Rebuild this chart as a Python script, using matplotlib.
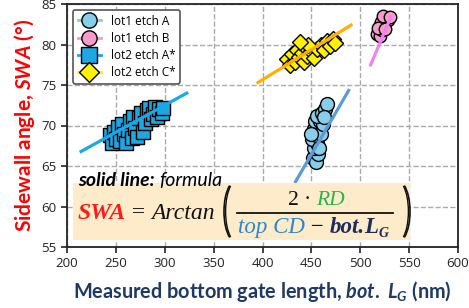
import matplotlib
matplotlib.use('Agg')
import matplotlib.pyplot as plt
from matplotlib.lines import Line2D
import matplotlib.patches as mpatches

# ---------------- data ----------------
a1_x = [452, 455, 457, 453, 456, 451, 455, 458, 453, 457, 460, 454, 459, 462, 456, 461, 464, 466, 463, 450, 458]
a1_y = [66.0, 65.5, 66.5, 67.2, 67.8, 68.3, 68.8, 69.3, 69.6, 70.0, 69.0, 70.5, 70.6, 70.2, 71.2, 71.5, 72.0, 72.6, 71.0, 69.0, 67.2]

b1_x = [517, 520, 522, 519, 524, 521, 526, 528, 523, 530, 518, 525]
b1_y = [81.3, 81.0, 81.8, 82.2, 82.5, 82.8, 83.2, 83.0, 83.5, 83.4, 82.0, 81.9]

a2_x = [244, 246, 248, 250, 252, 254, 256, 258, 260, 262, 264, 266, 268, 270, 272, 274, 276, 278, 280, 282, 284, 286, 288, 290, 292, 294, 297, 298]
a2_y = [68.8, 67.9, 69.2, 68.3, 69.8, 68.1, 70.2, 68.9, 67.8, 69.5, 70.6, 68.4, 71.0, 69.7, 68.6, 70.9, 71.6, 69.2, 70.3, 71.9, 72.2, 70.8, 71.4, 72.3, 71.0, 72.0, 71.6, 72.2]

c2_x = [425, 428, 430, 433, 435, 437, 440, 442, 444, 446, 450, 453, 456, 460, 463, 466, 469, 472, 474, 447, 438]
c2_y = [78.2, 77.5, 78.8, 77.9, 79.3, 78.4, 79.0, 77.8, 79.6, 78.6, 79.2, 78.3, 79.5, 79.9, 79.3, 80.4, 79.8, 80.7, 80.2, 80.0, 80.3]

# formula lines (end points)
fa1_x = [433, 489]; fa1_y = [62.9, 74.5]
fb1_x = [510, 532]; fb1_y = [77.3, 83.6]
fa2_x = [213, 324]; fa2_y = [66.7, 74.1]
fc2_x = [394, 492]; fc2_y = [75.2, 82.5]

labels = ['lot1 etch A', 'lot1 etch B', 'lot2 etch A*', 'lot2 etch C*']
xticks = [200, 250, 300, 350, 400, 450, 500, 550, 600]
yticks = [55, 60, 65, 70, 75, 80, 85]

# ---------------- figure ----------------
W, H = 469, 308
plt.rcParams['mathtext.fontset'] = 'custom'
plt.rcParams['mathtext.it'] = 'Lato:bold:italic'
plt.rcParams['mathtext.rm'] = 'Lato:bold'
plt.rcParams['mathtext.bf'] = 'Lato:bold'

fig = plt.figure(figsize=(W / 100, H / 100), dpi=100)
ax = fig.add_axes([67 / W, 1 - 247 / H, (458 - 67) / W, (247 - 4) / H])

c_a1, c_a1l = '#87CEEB', '#5B9BD5'
c_b1, c_b1l = '#F79BCB', '#EE82EE'
c_a2, c_a2l = '#1EA7E1', '#1BA8E8'
c_c2, c_c2l = '#FFF200', '#FFB000'

ax.plot(fa1_x, fa1_y, color=c_a1l, lw=2.3, zorder=5, solid_capstyle='butt')
ax.plot(fb1_x, fb1_y, color=c_b1l, lw=2.3, zorder=5, solid_capstyle='butt')
ax.plot(fa2_x, fa2_y, color=c_a2l, lw=2.3, zorder=5, solid_capstyle='butt')
ax.plot(fc2_x, fc2_y, color=c_c2l, lw=2.3, zorder=5, solid_capstyle='butt')

ax.plot(a1_x, a1_y, 'o', ms=10, mfc=c_a1, mec='black', mew=1, zorder=4)
ax.plot(b1_x, b1_y, 'o', ms=9, mfc=c_b1, mec='black', mew=1, zorder=4)
ax.plot(a2_x, a2_y, 's', ms=10, mfc=c_a2, mec='black', mew=1, zorder=4)
ax.plot(c2_x, c2_y, 'D', ms=8, mfc=c_c2, mec='black', mew=1, zorder=4)

ax.set_xlim(200, 600)
ax.set_ylim(55, 85)
ax.set_xticks(xticks)
ax.set_yticks(yticks)
ax.grid(True, ls='--', color='#AAAAAA', lw=1)
ax.set_axisbelow(True)
for s in ax.spines.values():
    s.set_linewidth(1.3)
    s.set_color('#222222')
ax.tick_params(labelsize=9.5, colors='#222222', length=4, width=1.2)
for t in ax.get_xticklabels() + ax.get_yticklabels():
    t.set_fontfamily('Open Sans')

handles = [
    Line2D([], [], color=c_a1, marker='o', ms=11, mfc=c_a1, mec='black', lw=2),
    Line2D([], [], color=c_b1, marker='o', ms=11, mfc=c_b1, mec='black', lw=2),
    Line2D([], [], color=c_a2, marker='s', ms=11, mfc=c_a2, mec='black', lw=2),
    Line2D([], [], color=c_c2, marker='D', ms=10, mfc=c_c2, mec='black', lw=2),
]
leg = ax.legend(handles, labels, loc='upper left', bbox_to_anchor=(0.0, 1.0),
                prop={'family': 'Open Sans', 'size': 8.5}, framealpha=1,
                edgecolor='#555555', handlelength=2.0, labelspacing=0.35,
                borderpad=0.4, handletextpad=0.8)
leg.get_frame().set_linewidth(1.2)
leg.set_zorder(10)

ax.set_ylabel(r'Sidewall angle, $SWA$ (°)', color='red', fontsize=15,
              fontfamily='Lato', fontweight='bold', labelpad=3)
ax.set_xlabel(r'Measured bottom gate length, $bot.\ L_G$ (nm)', color='#1F3864',
              fontsize=14.3, fontfamily='Lato', fontweight='bold', labelpad=6)

# formula box
def P(x, y):
    return (x / W, 1 - y / H)

box = mpatches.Rectangle(P(73, 240), (410 - 73) / W, (240 - 183) / H,
                         transform=fig.transFigure, facecolor='#FDEBC9',
                         edgecolor='none', zorder=3)
fig.add_artist(box)

fig.canvas.draw()
renderer = fig.canvas.get_renderer()

def chain(x, y, pieces):
    for txt, kw in pieces:
        t = fig.text(x / W, 1 - y / H, txt, ha='left', va='baseline', zorder=12, **kw)
        bb = t.get_window_extent(renderer)
        x += bb.width
    return x

sans_bi = dict(family='Lato', style='italic', weight='bold', size=14, color='black')
sans_i = dict(family='Lato', style='italic', size=14, color='black')
chain(78, 186, [('solid line: ', sans_bi), ('formula', sans_i)])

serif = 'Liberation Serif'
chain(78, 219, [('SWA', dict(family=serif, style='italic', weight='bold', size=17, color='#FF1A1A')),
                (' = ', dict(family=serif, size=17, color='#111111')),
                ('Arctan', dict(family=serif, style='italic', size=17, color='#111111'))])

# thin tall parentheses drawn as elliptical arcs (figure pixel geometry)
def paren(cx, left=True):
    a, b = 12.0, 30.5
    th = (99, 261) if left else (-81, 81)
    for lw, da in ((1.2, 0.0), (1.0, 0.8)):
        arc = mpatches.Arc(P(cx + (da if left else -da), 211.5), 2 * (a - da) / W, 2 * b / H,
                           theta1=th[0], theta2=th[1], transform=fig.transFigure,
                           color='#111111', lw=lw, zorder=12)
        fig.add_artist(arc)

paren(236, left=True)
paren(398, left=False)

# numerator
chain(288, 205, [('2 · ', dict(family=serif, size=15.5, color='#111111')),
                 ('RD', dict(family=serif, style='italic', size=15.5, color='#2DB34A'))])
# fraction bar
fig.add_artist(Line2D([237 / W, 393 / W], [1 - 213 / H, 1 - 213 / H], color='#111111',
                      lw=1.3, transform=fig.transFigure, zorder=12))
# denominator
xe = chain(238, 233, [('top CD', dict(family=serif, style='italic', size=16.5, color='#2E86D1')),
                      (' − ', dict(family=serif, size=16.5, color='#111111')),
                      ('bot.', dict(family=serif, style='italic', weight='bold', size=16.5, color='#1F2D5C')),
                      ('L', dict(family=serif, style='italic', weight='bold', size=16.5, color='#1F2D5C'))])
fig.text(xe / W, 1 - 237 / H, 'G', family=serif, style='italic', weight='bold', size=10,
         color='#1F2D5C', ha='left', va='baseline', zorder=12)

fig.savefig('out.png', dpi=100)
